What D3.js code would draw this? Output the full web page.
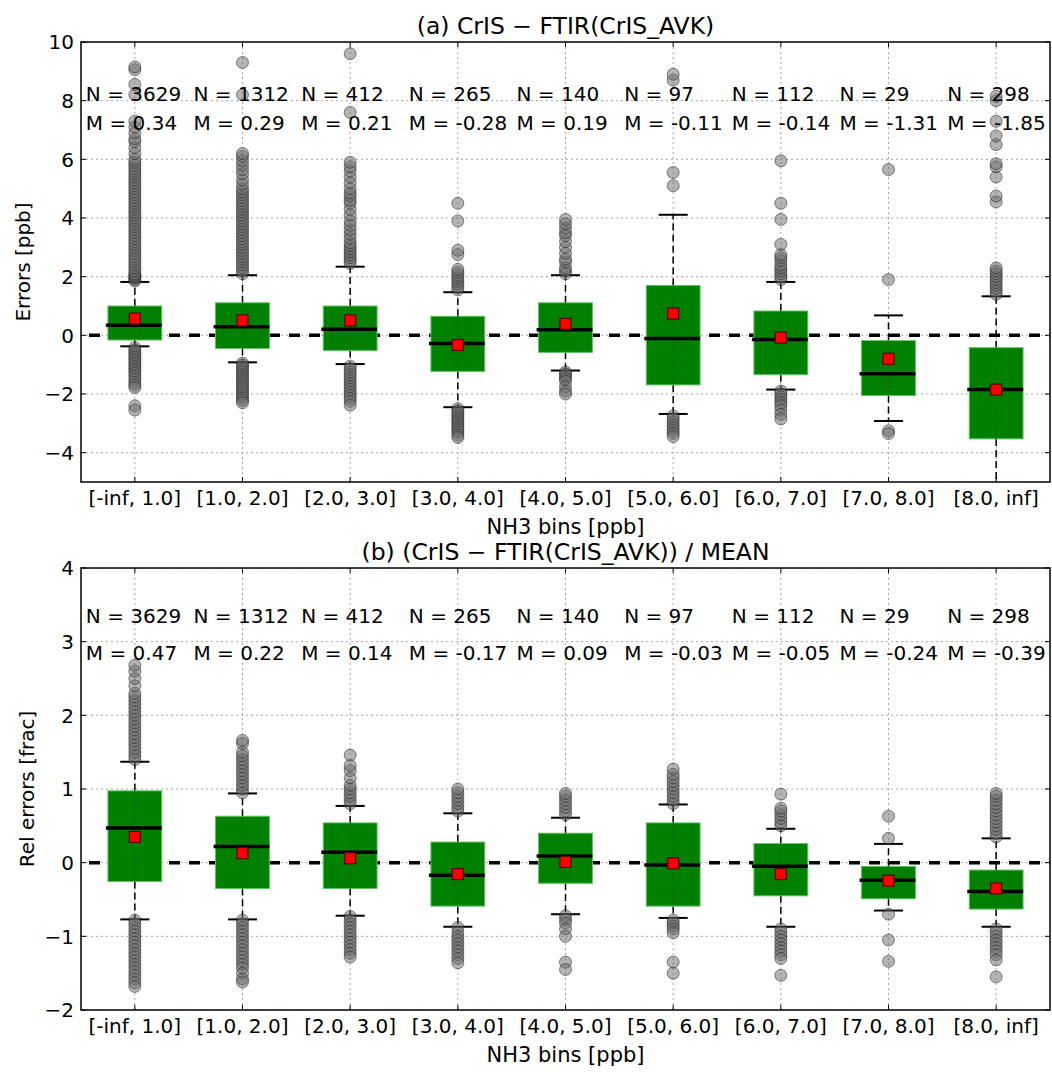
<!DOCTYPE html>
<html><head><meta charset="utf-8">
<script src="https://cdn.jsdelivr.net/npm/d3@7"></script>
<style>body{margin:0;background:#fff;} text{font-family:"DejaVu Sans",sans-serif;}</style>
</head><body>
<svg id="chart" width="1052" height="1072"></svg>
<script>
const categories = ["[-inf, 1.0]","[1.0, 2.0]","[2.0, 3.0]","[3.0, 4.0]","[4.0, 5.0]","[5.0, 6.0]","[6.0, 7.0]","[7.0, 8.0]","[8.0, inf]"];
const counts = [3629,1312,412,265,140,97,112,29,298];

// Panel (a): absolute errors [ppb]
const medianA = [0.34,0.29,0.21,-0.28,0.19,-0.11,-0.14,-1.31,-1.85];
const q3A = [1.0,1.11,1.0,0.65,1.11,1.70,0.83,-0.18,-0.42];
const q1A = [-0.16,-0.45,-0.52,-1.23,-0.58,-1.69,-1.34,-2.05,-3.53];
const meanA = [0.57,0.51,0.51,-0.33,0.39,0.74,-0.08,-0.80,-1.85];
const whiskHiA = [1.82,2.05,2.34,1.47,2.05,4.11,1.82,0.68,1.33];
const whiskLoA = [-0.375,-0.92,-0.98,-2.45,-1.2,-2.68,-1.85,-2.92,-6.5];
const fliersA = [
  [1.85,1.9,1.95,2.0,2.05,2.1,2.2,2.3,2.4,2.5,2.6,2.7,2.8,2.9,3.0,3.1,3.2,3.3,3.4,3.5,3.6,3.7,3.8,3.9,4.0,4.1,4.2,4.3,4.4,4.5,4.6,4.7,4.8,4.9,5.0,5.1,5.2,5.3,5.4,5.5,5.6,5.7,5.8,5.9,6.0,6.2,6.4,6.6,6.7,6.9,7.1,7.3,8.2,8.55,9.05,9.15,
   -0.42,-0.5,-0.58,-0.66,-0.74,-0.82,-0.9,-0.98,-1.06,-1.14,-1.22,-1.3,-1.4,-1.5,-1.6,-1.7,-1.78,-2.4,-2.55],
  [2.1,2.2,2.3,2.4,2.5,2.6,2.7,2.8,2.9,3.0,3.1,3.2,3.3,3.4,3.5,3.6,3.7,3.8,3.9,4.0,4.1,4.2,4.3,4.4,4.5,4.6,4.7,4.8,4.9,5.0,5.15,5.3,5.5,5.65,5.8,5.95,6.1,6.2,8.2,9.3,
   -0.95,-1.02,-1.1,-1.18,-1.26,-1.34,-1.42,-1.5,-1.58,-1.66,-1.74,-1.82,-1.9,-1.98,-2.06,-2.14,-2.22,-2.3],
  [2.45,2.55,2.65,2.75,2.85,2.95,3.05,3.15,3.3,3.45,3.6,3.75,3.9,4.1,4.3,4.5,4.6,4.75,4.85,5.0,5.2,5.4,5.6,5.75,5.9,7.6,9.6,
   -1.05,-1.15,-1.25,-1.35,-1.45,-1.55,-1.65,-1.75,-1.85,-1.95,-2.05,-2.15,-2.25,-2.38],
  [1.55,1.65,1.75,1.85,1.95,2.05,2.15,2.25,2.75,2.9,3.9,4.5,
   -2.5,-2.58,-2.66,-2.74,-2.82,-2.9,-2.98,-3.06,-3.14,-3.22,-3.3,-3.4,-3.48],
  [2.1,2.2,2.3,2.5,2.6,2.8,3.0,3.2,3.4,3.5,3.65,3.8,3.95,
   -1.25,-1.32,-1.4,-1.48,-1.56,-1.75,-1.9,-2.0],
  [5.1,5.55,8.7,8.9,
   -2.75,-2.85,-2.95,-3.05,-3.15,-3.25,-3.35,-3.45],
  [1.9,2.0,2.1,2.2,2.3,2.4,2.55,2.65,2.75,3.1,3.95,4.5,5.95,
   -1.9,-2.0,-2.1,-2.2,-2.3,-2.4,-2.55,-2.7,-2.85],
  [1.9,5.65,-3.25,-3.35],
  [1.4,1.5,1.6,1.7,1.8,1.9,2.0,2.1,2.2,2.3,4.55,4.75,5.4,5.75,5.85,6.5,6.8,7.3,8.0,8.15]
];
const mLabelsA = ["0.34","0.29","0.21","-0.28","0.19","-0.11","-0.14","-1.31","-1.85"];

// Panel (b): relative errors [frac]
const medianB = [0.47,0.22,0.14,-0.17,0.09,-0.03,-0.05,-0.24,-0.39];
const q3B = [0.975,0.63,0.54,0.28,0.40,0.54,0.26,-0.05,-0.10];
const q1B = [-0.255,-0.35,-0.35,-0.59,-0.28,-0.59,-0.45,-0.49,-0.63];
const meanB = [0.35,0.13,0.06,-0.155,0.01,-0.01,-0.155,-0.245,-0.35];
const whiskHiB = [1.37,0.94,0.77,0.67,0.61,0.79,0.46,0.255,0.33];
const whiskLoB = [-0.77,-0.77,-0.72,-0.87,-0.70,-0.75,-0.87,-0.65,-0.87];
const fliersB = [
  [1.4,1.45,1.5,1.55,1.6,1.65,1.7,1.75,1.8,1.85,1.9,1.95,2.0,2.05,2.1,2.15,2.2,2.25,2.3,2.4,2.5,2.6,2.68,
   -0.78,-0.83,-0.88,-0.93,-0.98,-1.03,-1.08,-1.13,-1.18,-1.23,-1.28,-1.33,-1.38,-1.43,-1.48,-1.53,-1.58,-1.63,-1.68],
  [0.95,1.0,1.05,1.1,1.15,1.2,1.25,1.3,1.35,1.4,1.45,1.5,1.62,1.66,
   -0.78,-0.83,-0.88,-0.93,-0.98,-1.03,-1.08,-1.13,-1.18,-1.23,-1.28,-1.33,-1.38,-1.43,-1.5,-1.58,-1.62],
  [0.8,0.85,0.9,0.95,1.0,1.05,1.15,1.25,1.32,1.46,
   -0.73,-0.78,-0.83,-0.88,-0.93,-0.98,-1.03,-1.08,-1.13,-1.18,-1.23,-1.28],
  [0.7,0.75,0.8,0.85,0.9,0.95,1.0,
   -0.88,-0.95,-1.0,-1.05,-1.1,-1.15,-1.2,-1.25,-1.3,-1.36],
  [0.65,0.7,0.75,0.8,0.85,0.9,0.94,
   -0.72,-0.77,-0.82,-0.9,-1.0,-1.35,-1.45],
  [0.8,0.85,0.9,0.95,1.0,1.05,1.1,1.15,1.2,1.27,
   -0.78,-0.82,-0.86,-0.9,-0.95,-1.35,-1.5],
  [0.5,0.55,0.6,0.65,0.7,0.74,0.93,
   -0.9,-0.95,-1.0,-1.05,-1.1,-1.15,-1.2,-1.25,-1.3,-1.53],
  [0.33,0.63,-0.7,-1.05,-1.34],
  [0.35,0.4,0.45,0.5,0.55,0.6,0.65,0.7,0.75,0.8,0.85,0.9,0.94,
   -0.9,-0.95,-1.0,-1.05,-1.1,-1.15,-1.2,-1.25,-1.32,-1.55]
];
const mLabelsB = ["0.47","0.22","0.14","-0.17","0.09","-0.03","-0.05","-0.24","-0.39"];

const yTicksA = [-4,-2,0,2,4,6,8,10];
const yTicksB = [-2,-1,0,1,2,3,4];

const svg = d3.select("#chart");
const FS = 20;

function panel(o){
  const g = svg.append("g");
  const x = d3.scaleBand().domain(categories).range([o.left,o.right]).padding(0);
  const bw = x.bandwidth();
  const cx = c => x(c) + bw/2;
  const y = d3.scaleLinear().domain(o.yDomain).range([o.bottom,o.top]);
  const clipId = "clip"+o.id;
  svg.append("clipPath").attr("id",clipId).append("rect")
    .attr("x",o.left).attr("y",o.top).attr("width",o.right-o.left).attr("height",o.bottom-o.top);
  const pg = g.append("g").attr("clip-path",`url(#${clipId})`);

  // grid
  o.yTicks.forEach(t=>{
    pg.append("line").attr("x1",o.left).attr("x2",o.right).attr("y1",y(t)).attr("y2",y(t))
      .attr("stroke","#a8a8a8").attr("stroke-width",1).attr("stroke-dasharray","2,3");
  });
  categories.forEach(c=>{
    pg.append("line").attr("x1",cx(c)).attr("x2",cx(c)).attr("y1",o.top).attr("y2",o.bottom)
      .attr("stroke","#a8a8a8").attr("stroke-width",1).attr("stroke-dasharray","2,3");
  });

  // zero line
  pg.append("line").attr("x1",o.left).attr("x2",o.right).attr("y1",y(0)).attr("y2",y(0))
    .attr("stroke","#000").attr("stroke-width",3.5).attr("stroke-dasharray","11,9")
    .attr("stroke-dashoffset",-8);

  const boxW = bw*0.5, capW = bw*0.27;
  // whiskers
  categories.forEach((c,i)=>{
    const xc = cx(c);
    pg.append("line").attr("x1",xc).attr("x2",xc).attr("y1",y(o.q3[i])).attr("y2",y(o.whHi[i]))
      .attr("stroke","#000").attr("stroke-width",1.5).attr("stroke-dasharray","7,4");
    pg.append("line").attr("x1",xc).attr("x2",xc).attr("y1",y(o.q1[i])).attr("y2",y(o.whLo[i]))
      .attr("stroke","#000").attr("stroke-width",1.5).attr("stroke-dasharray","7,4");
    [o.whHi[i],o.whLo[i]].forEach(v=>{
      pg.append("line").attr("x1",xc-capW/2).attr("x2",xc+capW/2).attr("y1",y(v)).attr("y2",y(v))
        .attr("stroke","#000").attr("stroke-width",2);
    });
  });
  // boxes
  pg.selectAll("rect.box").data(categories).join("rect").attr("class","box")
    .attr("x",c=>cx(c)-boxW/2).attr("width",boxW)
    .attr("y",(c,i)=>y(o.q3[i])).attr("height",(c,i)=>y(o.q1[i])-y(o.q3[i]))
    .attr("fill","#008000").attr("stroke","#5fc35f").attr("stroke-width",1);

  // vertical grid visible through boxes
  categories.forEach((c,i)=>{
    pg.append("line").attr("x1",cx(c)).attr("x2",cx(c)).attr("y1",y(o.q3[i])).attr("y2",y(o.q1[i]))
      .attr("stroke","#1a5a1a").attr("stroke-width",1).attr("stroke-dasharray","2,3");
  });

  // medians
  pg.selectAll("line.med").data(categories).join("line").attr("class","med")
    .attr("x1",c=>cx(c)-boxW/2-2).attr("x2",c=>cx(c)+boxW/2)
    .attr("y1",(c,i)=>y(o.median[i])).attr("y2",(c,i)=>y(o.median[i]))
    .attr("stroke","#000").attr("stroke-width",3.5);

  // fliers
  categories.forEach((c,i)=>{
    pg.selectAll(null).data(o.fliers[i]).join("circle")
      .attr("cx",cx(c)).attr("cy",v=>y(v)).attr("r",6)
      .attr("fill","#6a6a6a").attr("fill-opacity",0.5)
      .attr("stroke","#1a1a1a").attr("stroke-opacity",0.5).attr("stroke-width",1);
  });

  // means
  const ms = 11;
  pg.selectAll("rect.mean").data(categories).join("rect").attr("class","mean")
    .attr("x",c=>cx(c)-ms/2).attr("y",(c,i)=>y(o.mean[i])-ms/2).attr("width",ms).attr("height",ms)
    .attr("fill","#ff0000").attr("stroke","#5a0000").attr("stroke-width",1.2);

  // N / M texts
  categories.forEach((c,i)=>{
    g.append("text").attr("x",cx(c)-0.455*bw).attr("y",y(o.nY)).attr("font-size",FS).attr("fill","#000")
      .text("N = "+counts[i]);
    g.append("text").attr("x",cx(c)-0.455*bw).attr("y",y(o.mY)).attr("font-size",FS).attr("fill","#000")
      .text("M = "+o.mLabels[i]);
  });

  // frame
  g.append("rect").attr("x",o.left).attr("y",o.top).attr("width",o.right-o.left).attr("height",o.bottom-o.top)
    .attr("fill","none").attr("stroke","#000").attr("stroke-width",1.5);

  // ticks (inward)
  const tl = 5;
  o.yTicks.forEach(t=>{
    g.append("line").attr("x1",o.left).attr("x2",o.left+tl).attr("y1",y(t)).attr("y2",y(t)).attr("stroke","#000");
    g.append("line").attr("x1",o.right).attr("x2",o.right-tl).attr("y1",y(t)).attr("y2",y(t)).attr("stroke","#000");
    g.append("text").attr("x",o.left-7).attr("y",y(t)).attr("dy","0.36em").attr("text-anchor","end")
      .attr("font-size",FS).attr("fill","#000").text(d3.format("d")(t));
  });
  categories.forEach(c=>{
    g.append("line").attr("x1",cx(c)).attr("x2",cx(c)).attr("y1",o.bottom).attr("y2",o.bottom-tl).attr("stroke","#000");
    g.append("line").attr("x1",cx(c)).attr("x2",cx(c)).attr("y1",o.top).attr("y2",o.top+tl).attr("stroke","#000");
    g.append("text").attr("x",cx(c)).attr("y",o.bottom+23).attr("text-anchor","middle")
      .attr("font-size",FS).attr("fill","#000").text(c);
  });
  // labels
  const midX = (o.left+o.right)/2;
  g.append("text").attr("x",midX).attr("y",o.bottom+52).attr("text-anchor","middle")
    .attr("font-size",21).attr("fill","#000").text("NH3 bins [ppb]");
  g.append("text").attr("x",midX).attr("y",o.top-8).attr("text-anchor","middle")
    .attr("font-size",23.5).attr("fill","#000").text(o.title);
  g.append("text").attr("transform",`translate(${o.yLabX},${(o.top+o.bottom)/2}) rotate(-90)`)
    .attr("text-anchor","middle").attr("font-size",FS).attr("fill","#000").text(o.yLabel);
}

panel({id:"a",left:81,right:1050,top:42,bottom:482,yDomain:[-5,10],yTicks:yTicksA,
  median:medianA,q1:q1A,q3:q3A,mean:meanA,whHi:whiskHiA,whLo:whiskLoA,fliers:fliersA,mLabels:mLabelsA,
  nY:8,mY:7,title:"(a) CrIS − FTIR(CrIS_AVK)",yLabel:"Errors [ppb]",yLabX:30});
panel({id:"b",left:81,right:1050,top:568,bottom:1010,yDomain:[-2,4],yTicks:yTicksB,
  median:medianB,q1:q1B,q3:q3B,mean:meanB,whHi:whiskHiB,whLo:whiskLoB,fliers:fliersB,mLabels:mLabelsB,
  nY:3.25,mY:2.75,title:"(b) (CrIS − FTIR(CrIS_AVK)) / MEAN",yLabel:"Rel errors [frac]",yLabX:34});
</script>
</body></html>
